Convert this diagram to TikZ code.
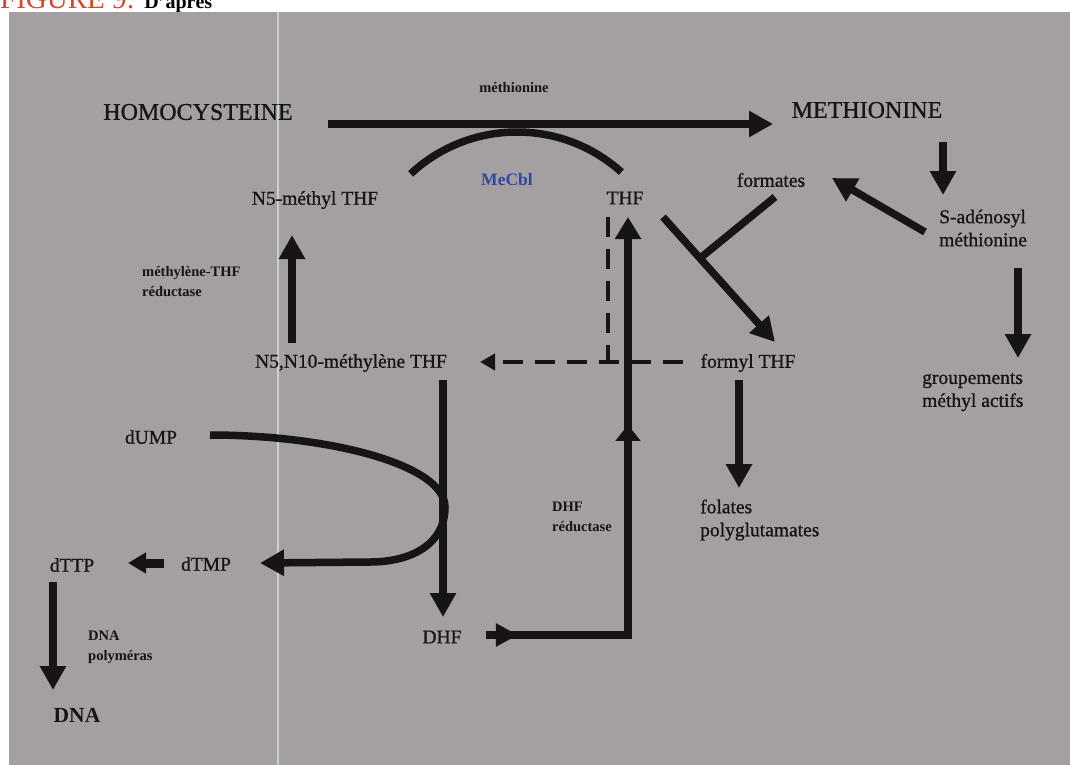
\documentclass[tikz,border=0pt]{standalone}
\usepackage{fontspec}
\setmainfont{Liberation Serif}
\newfontfamily\scanserif{Liberation Serif}[FakeBold=0.9]
\usetikzlibrary{arrows.meta,calc,decorations.markings}
\definecolor{panelgray}{RGB}{164,159,161}
\definecolor{ink}{RGB}{22,20,22}
\definecolor{cblblue}{RGB}{48,72,165}
\definecolor{figred}{RGB}{215,70,45}
\definecolor{scanline}{RGB}{196,212,196}
\tikzset{
  mol/.style={inner sep=0pt,text=ink,font=\scanserif\fontsize{19.5}{23}\selectfont,align=left},
  big/.style={inner sep=0pt,text=ink,font=\scanserif\fontsize{24}{26}\selectfont},
  enz/.style={inner sep=0pt,text=ink,font=\fontsize{14.5}{20}\selectfont\bfseries,align=left},
  fat/.style={line width=7.5pt,color=ink},
  arr/.style={fat,-{Triangle[length=24pt,width=25pt]}},
  sarr/.style={fat,line width=9pt,-{Triangle[length=18pt,width=20pt]}},
  dline/.style={line width=4pt,color=ink,dash pattern=on 20pt off 12pt},
  darr/.style={dline,-{Triangle[length=15pt,width=16pt]}},
}
\begin{document}
\begin{tikzpicture}[x=1pt,y=1pt]
  \useasboundingbox (0,0) rectangle (1070,-765);
  \fill[white] (0,0) rectangle (1070,-765);
  \fill[panelgray] (9,-12) rectangle (1070,-765);
  \draw[line width=2.2pt,scanline] (278,-12) -- (278,-765);
  % caption, cut at the top
  \begin{scope}
    \clip (0,0) rectangle (1070,-12);
    \node[anchor=base west,inner sep=0pt] (cap) at (0,-9)
      {\fontsize{29}{29}\selectfont\textcolor{figred}{FIGURE 9:}
       \fontsize{20}{20}\selectfont\bfseries D'après};
  \end{scope}
  % molecules
  \node[big] (homo) at (198,-112) {HOMOCYSTEINE};
  \node[big] (meth) at (867,-110) {METHIONINE};
  \node[enz] (methlab) at (514,-88) {méthionine};
  \node[enz,text=cblblue,font=\fontsize{17.5}{20}\selectfont\bfseries] (mecbl) at (507,-180) {MeCbl};
  \node[mol] (n5m) at (315,-200) {N5-méthyl THF};
  \node[mol] (thf) at (625,-198) {THF};
  \node[mol] (form) at (771,-180) {formates};
  \node[mol,anchor=west] (sam) at (939,-228) {S-adénosyl\\méthionine};
  \node[enz,anchor=west] (mtr) at (142,-282) {méthylène-THF\\réductase};
  \node[mol] (n510) at (351,-363) {N5,N10-méthylène THF};
  \node[mol] (formyl) at (748,-363) {formyl THF};
  \node[mol,anchor=west] (grp) at (922,-392) {groupements\\méthyl actifs};
  \node[mol] (dump) at (151,-437) {dUMP};
  \node[mol,anchor=west] (fol) at (700,-520) {folates\\polyglutamates};
  \node[enz,anchor=west] (dhfr) at (552,-517) {DHF\\réductase};
  \node[mol] (dtmp) at (206,-564) {dTMP};
  \node[mol] (dttp) at (72,-565) {dTTP};
  \node[mol] (dhf) at (442,-637) {DHF};
  \node[enz,anchor=west] (pol) at (88,-647) {DNA\\polyméras};
  \node[big,font=\fontsize{21.5}{24}\selectfont\bfseries] (dna) at (77,-715) {DNA};
  % methionine synthase
  \draw[arr] ($(homo)+(130,-12)$) -- ($(meth)+(-94,-14)$);
  \draw[fat] ($(mecbl)+(-96.4,6.1)$) arc[start angle=133,end angle=48,radius=156];
  % methyl cycle
  \draw[arr] ($(meth)+(76,-32)$) -- ($(sam.west)+(4,33)$);
  \draw[arr] ($(sam.west)+(-14,-4)$) -- ($(form)+(61,2)$);
  \draw[arr] ($(sam.west)+(79,-40)$) -- ($(grp.west)+(96,34)$);
  % THF to formyl THF
  \coordinate (t1) at ($(thf)+(38,-19)$);
  \coordinate (t2) at ($(formyl)+(27,21)$);
  \draw[arr] (t1) -- (t2);
  \draw[fat] ($(form)+(4,-17)$) -- ($(t1)!0.33!(t2)$);
  \draw[arr] ($(formyl)+(-9,-17)$) -- ($(fol.west)+(39,32)$);
  % folate reduction
  \draw[arr] ($(n510)+(-59,20)$) -- ($(n5m)+(-23,-35)$);
  \draw[arr] ($(n510)+(92,-17)$) -- ($(dhf)+(1,20)$);
  \coordinate (dj) at ($(thf)+(-17,-164)$);
  \draw[darr] ($(formyl)+(-65,1)$) -- ($(n510)+(129,1)$);
  \draw[dline] ($(thf)+(-17,-19)$) -- (dj);
  % thymidylate synthase
  \draw[arr] ($(dump)+(59,2)$) .. controls ($(dump)+(179,2)$) and ($(dump)+(294,-28)$) .. ($(dump)+(294,-70)$)
    .. controls ($(dump)+(294,-108)$) and ($(dump)+(259,-125)$) .. ($(dump)+(219,-125)$) -- ($(dtmp)+(54,1)$);
  \draw[sarr] ($(dtmp)+(-42,1)$) -- ($(dttp)+(56,2)$);
  \draw[arr] ($(dttp)+(-19,-17)$) -- ($(dna)+(-24,25)$);
  % DHF reductase
  \draw[fat,-{Triangle[length=22pt,width=25pt]},postaction={decorate},
    decoration={markings,
      mark=at position 0.057 with {\arrow{Triangle[length=22pt,width=22pt]}},
      mark=at position 0.629 with {\arrow{Triangle[length=16pt,width=24pt]}}}]
    ($(dhf)+(44,2)$) -| ($(thf)+(3,-19)$);
\end{tikzpicture}
\end{document}
